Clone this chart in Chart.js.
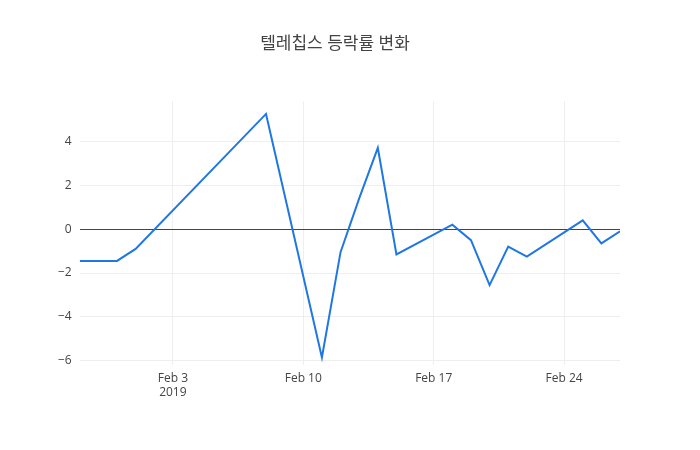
<!DOCTYPE html>
<html><head><meta charset="utf-8">
<script src="https://cdn.jsdelivr.net/npm/chart.js@4"></script>
<style>body{margin:0;background:#fff}#w{width:700px;height:450px}</style>
</head><body><div id="w"><canvas id="c"></canvas></div>
<script>
// day offset from Feb 3, 2019
const days = [-5,-3,-2,5,8,9,10,11,12,15,16,17,18,19,22,23,24];
const values = [-1.45,-1.45,-0.9,5.25,-5.85,-1.05,1.4,3.7,-1.15,0.2,-0.5,-2.55,-0.8,-1.25,0.4,-0.65,-0.1];
const tickDays = [0,7,14,21];
const tickLabels = [["Feb 3","2019"],"Feb 10","Feb 17","Feb 24"];
const yTicks = [-6,-4,-2,0,2,4];
const F = "'Open Sans', 'Noto Sans CJK KR', sans-serif";
new Chart(document.getElementById('c'), {
  type:'line',
  data:{datasets:[{data:days.map((d,i)=>({x:d,y:values[i]})),borderColor:'#1f77e4',borderWidth:2,pointRadius:0,tension:0,fill:false}]},
  options:{
    responsive:true,maintainAspectRatio:false,animation:false,
    layout:{padding:{left:50,right:80,top:10,bottom:44}},
    plugins:{legend:{display:false},tooltip:{enabled:false},
      title:{display:true,text:'텔레칩스 등락률 변화',color:'#444',font:{family:F,size:17,weight:'normal'},padding:{top:24,bottom:47}}},
    scales:{
      x:{type:'linear',min:-5,max:24,
        afterBuildTicks:s=>{s.ticks=tickDays.map(v=>({value:v}));},
        ticks:{color:'#444',font:{family:F,size:12},padding:6,maxRotation:0,callback:(v)=>tickLabels[tickDays.indexOf(v)]},
        grid:{color:'#eee',drawTicks:false},border:{display:false}},
      y:{min:-6.2,max:5.82,
        afterBuildTicks:s=>{s.ticks=yTicks.map(v=>({value:v}));},
        ticks:{color:'#444',font:{family:F,size:12},padding:8,callback:v=>v<0?'−'+Math.abs(v):''+v},
        grid:{color:c=>c.tick&&c.tick.value===0?'#444':'#eee',lineWidth:1,drawTicks:false},border:{display:false}}
    }
  }
});
</script></body></html>
